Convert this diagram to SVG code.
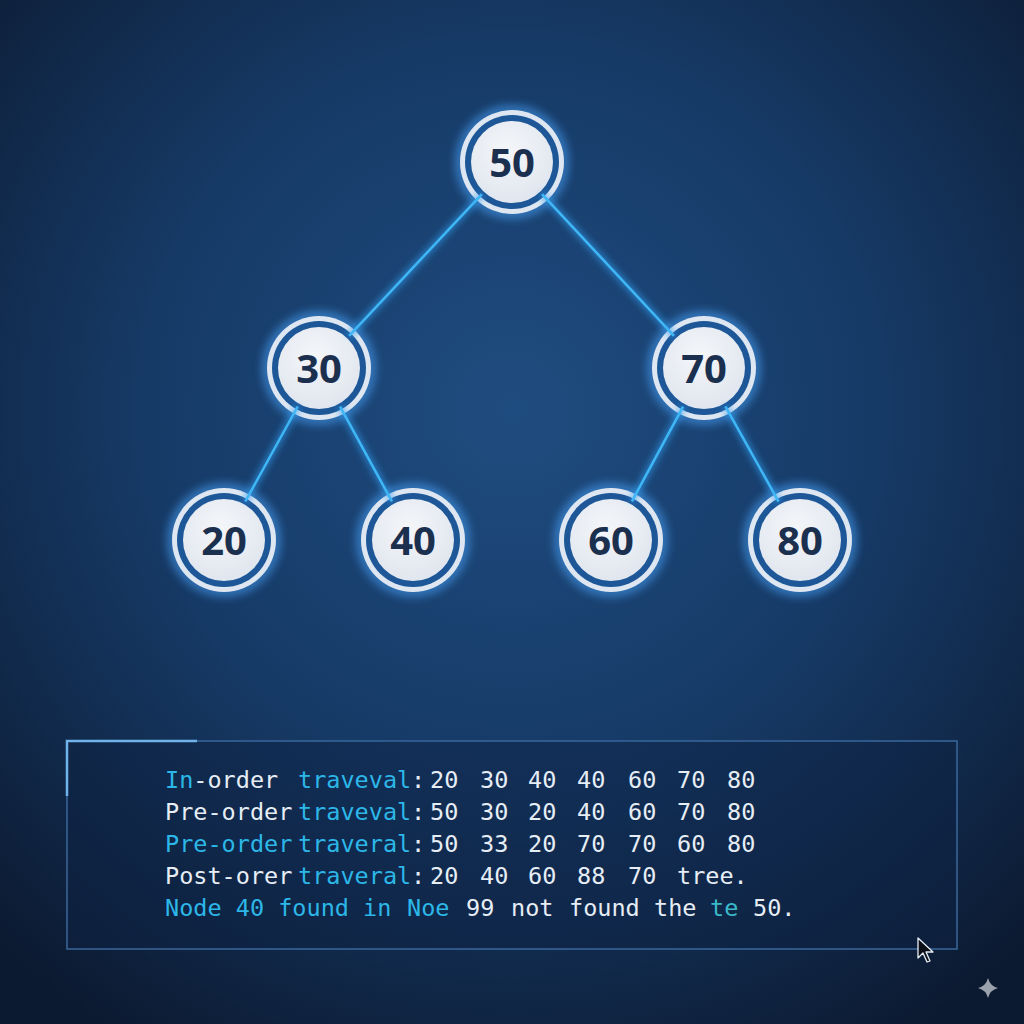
<svg xmlns="http://www.w3.org/2000/svg" width="1024" height="1024" viewBox="0 0 1024 1024">
<defs>
<radialGradient id="bg" cx="50%" cy="40%" r="72%">
<stop offset="0" stop-color="#1f4c80"/>
<stop offset="0.5" stop-color="#163a66"/>
<stop offset="1" stop-color="#0c1a31"/>
</radialGradient>
<radialGradient id="disk" cx="45%" cy="35%" r="70%">
<stop offset="0" stop-color="#f4f6f9"/>
<stop offset="1" stop-color="#dfe5ee"/>
</radialGradient>
<filter id="glow" x="-50%" y="-50%" width="200%" height="200%">
<feGaussianBlur stdDeviation="5"/>
</filter>
<filter id="lglow" x="-20%" y="-20%" width="140%" height="140%">
<feGaussianBlur stdDeviation="3"/>
</filter>
<style>
.halo{fill:none;stroke:#4aa6ff;stroke-width:8;opacity:0.7;filter:url(#glow)}
.ring{fill:#dde6f1}
.band{fill:#1d5797}
.inner{fill:url(#disk)}
.lbl{font-family:"Open Sans","Noto Sans",sans-serif;font-weight:700;font-size:40px;fill:#1b2f4e;text-anchor:middle}
.edge{stroke:#3fb6f5;stroke-width:2.5;fill:none}
.edgeglow{stroke:#2e9cf0;stroke-width:7;fill:none;opacity:0.6;filter:url(#lglow)}
.mono{font-family:"DejaVu Sans Mono","Liberation Mono",monospace;font-size:23.5px;fill:#e6edf5}
.c{fill:#2cb7e8}
.t{fill:#3ab9c9}
</style>
</defs>
<rect x="0" y="0" width="1024" height="1024" fill="url(#bg)"/>

<g id="nodes-back">
<circle class="halo" cx="512" cy="162" r="52"/>
<circle class="halo" cx="319" cy="368" r="52"/>
<circle class="halo" cx="704" cy="368" r="52"/>
<circle class="halo" cx="224" cy="540" r="52"/>
<circle class="halo" cx="413" cy="540" r="52"/>
<circle class="halo" cx="611" cy="540" r="52"/>
<circle class="halo" cx="800" cy="540" r="52"/>
</g>

<g id="node-50"><circle class="ring" cx="512" cy="162" r="52"/><circle class="band" cx="512" cy="162" r="47"/><circle class="inner" cx="512" cy="162" r="41"/><text class="lbl" x="512" y="177">50</text></g>
<g id="node-30"><circle class="ring" cx="319" cy="368" r="52"/><circle class="band" cx="319" cy="368" r="47"/><circle class="inner" cx="319" cy="368" r="41"/><text class="lbl" x="319" y="383">30</text></g>
<g id="node-70"><circle class="ring" cx="704" cy="368" r="52"/><circle class="band" cx="704" cy="368" r="47"/><circle class="inner" cx="704" cy="368" r="41"/><text class="lbl" x="704" y="383">70</text></g>
<g id="node-20"><circle class="ring" cx="224" cy="540" r="52"/><circle class="band" cx="224" cy="540" r="47"/><circle class="inner" cx="224" cy="540" r="41"/><text class="lbl" x="224" y="555">20</text></g>
<g id="node-40"><circle class="ring" cx="413" cy="540" r="52"/><circle class="band" cx="413" cy="540" r="47"/><circle class="inner" cx="413" cy="540" r="41"/><text class="lbl" x="413" y="555">40</text></g>
<g id="node-60"><circle class="ring" cx="611" cy="540" r="52"/><circle class="band" cx="611" cy="540" r="47"/><circle class="inner" cx="611" cy="540" r="41"/><text class="lbl" x="611" y="555">60</text></g>
<g id="node-80"><circle class="ring" cx="800" cy="540" r="52"/><circle class="band" cx="800" cy="540" r="47"/><circle class="inner" cx="800" cy="540" r="41"/><text class="lbl" x="800" y="555">80</text></g>

<g id="connectors">
<g class="edgeglow">
<line x1="481.9" y1="194.1" x2="349.1" y2="335.9"/>
<line x1="542" y1="194.2" x2="674" y2="335.8"/>
<line x1="297.7" y1="406.5" x2="245.3" y2="501.5"/>
<line x1="340.1" y1="406.6" x2="391.9" y2="501.4"/>
<line x1="683.1" y1="406.7" x2="631.9" y2="501.3"/>
<line x1="725.4" y1="406.4" x2="778.6" y2="501.6"/>
</g>
<g class="edge">
<line x1="481.9" y1="194.1" x2="349.1" y2="335.9"/>
<line x1="542" y1="194.2" x2="674" y2="335.8"/>
<line x1="297.7" y1="406.5" x2="245.3" y2="501.5"/>
<line x1="340.1" y1="406.6" x2="391.9" y2="501.4"/>
<line x1="683.1" y1="406.7" x2="631.9" y2="501.3"/>
<line x1="725.4" y1="406.4" x2="778.6" y2="501.6"/>
</g>
</g>

<g id="panel">
<rect x="67" y="741" width="890" height="208" fill="#0e2242" fill-opacity="0.45" stroke="#3a679c" stroke-width="1.5"/>
<path d="M67 796 V741 H197" fill="none" stroke="#6fb3ea" stroke-width="2.5"/>
<text class="mono" y="788"><tspan x="165" class="c">In</tspan><tspan>-order</tspan><tspan x="298" class="c">traveval</tspan><tspan x="411">:</tspan><tspan x="430">20</tspan><tspan x="480">30</tspan><tspan x="528">40</tspan><tspan x="577">40</tspan><tspan x="628">60</tspan><tspan x="677">70</tspan><tspan x="727">80</tspan></text>
<text class="mono" y="820"><tspan x="165">Pre-order</tspan><tspan x="298" class="c">traveval</tspan><tspan x="411">:</tspan><tspan x="430">50</tspan><tspan x="480">30</tspan><tspan x="528">20</tspan><tspan x="577">40</tspan><tspan x="628">60</tspan><tspan x="677">70</tspan><tspan x="727">80</tspan></text>
<text class="mono" y="852"><tspan x="165" class="c">Pre-order</tspan><tspan x="298" class="c">traveral</tspan><tspan x="411">:</tspan><tspan x="430">50</tspan><tspan x="480">33</tspan><tspan x="528">20</tspan><tspan x="577">70</tspan><tspan x="628">70</tspan><tspan x="677">60</tspan><tspan x="727">80</tspan></text>
<text class="mono" y="884"><tspan x="165">Post-orer</tspan><tspan x="298" class="c">traveral</tspan><tspan x="411">:</tspan><tspan x="430">20</tspan><tspan x="480">40</tspan><tspan x="528">60</tspan><tspan x="577">88</tspan><tspan x="628">70</tspan><tspan x="677">tree.</tspan></text>
<text class="mono" y="916"><tspan x="165" class="c">Node 40 found in</tspan><tspan x="407" class="c">Noe</tspan><tspan x="466">99</tspan><tspan x="511">not</tspan><tspan x="569">found</tspan><tspan x="654">the</tspan><tspan x="710" class="t">te</tspan><tspan x="753">50.</tspan></text>
</g>

<g id="cursor">
<path d="M918 938 L918 958 L923 953 L927 962 L930 961 L926 952 L933 952 Z" fill="#0b0f18" stroke="#e8eef5" stroke-width="1.3" stroke-linejoin="round"/>
</g>
<g id="sparkle">
<path d="M988 978 Q990 986 998 988 Q990 990 988 998 Q986 990 978 988 Q986 986 988 978 Z" fill="#9aa3ad"/>
</g>
</svg>
